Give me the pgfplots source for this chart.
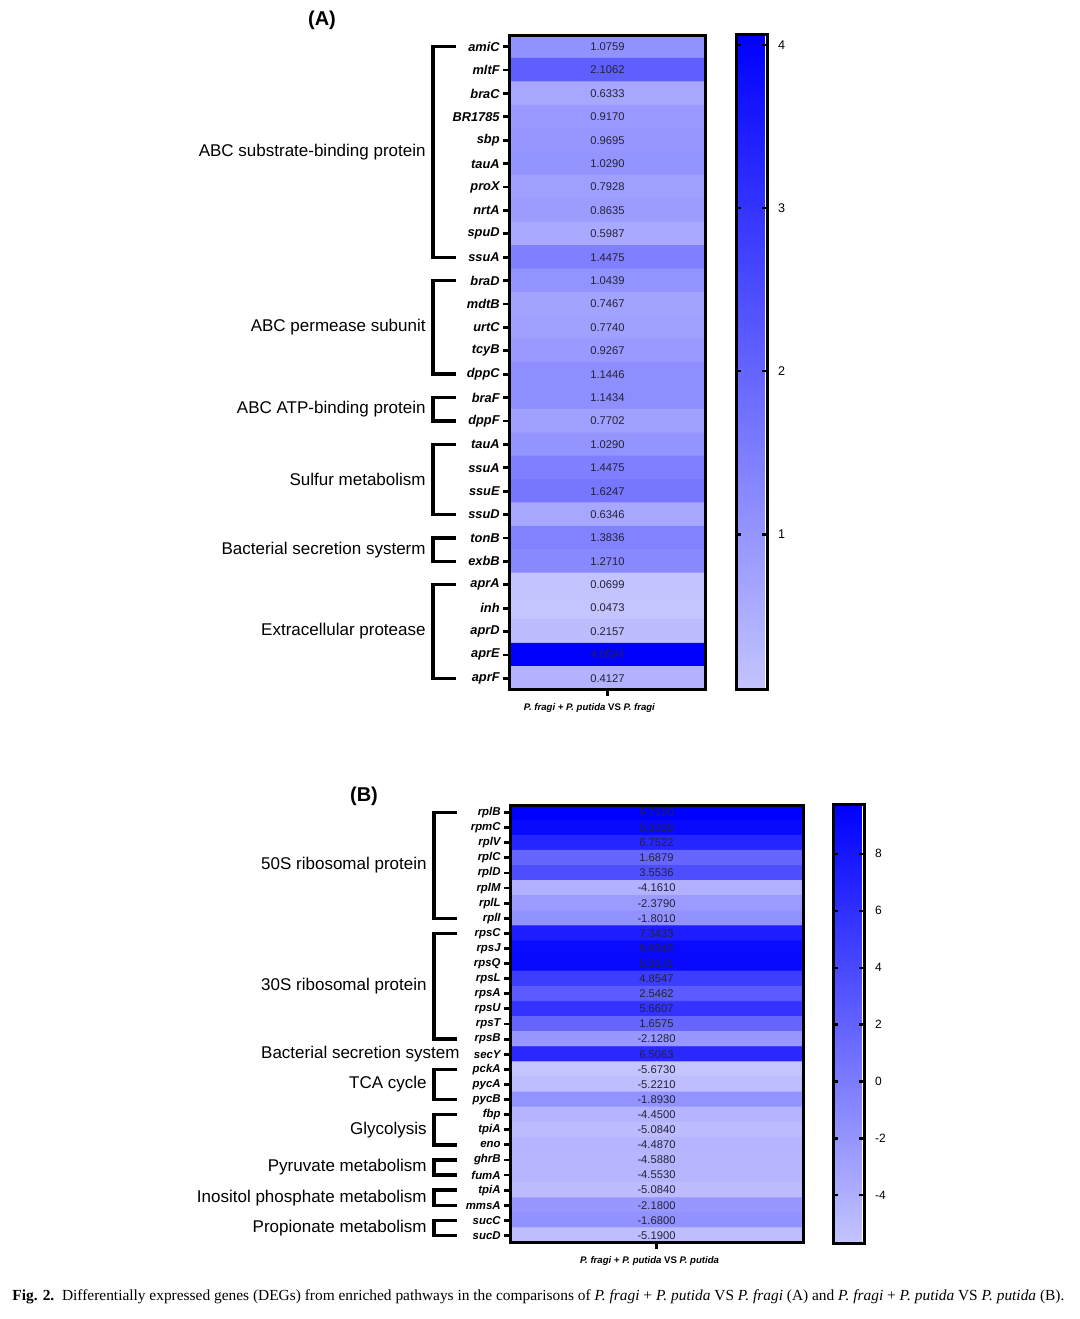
\documentclass[border=0pt]{standalone}
\usepackage{graphicx}
\usepackage{pgfplots}
\usepackage{pgfplotstable}
\pgfplotsset{compat=1.18}
\usepackage{fontspec}
\setmainfont{Liberation Sans}
\newfontfamily\capfont{Liberation Serif}
\definecolor{valcol}{RGB}{35,35,55}
\pgfplotsset{colormap={bluemap}{rgb255=(196,196,255) rgb255=(0,0,255)},
  /pgf/number format/assume math mode=true}

\pgfplotstableread{
y v
0 1.0759
1 2.1062
2 0.6333
3 0.9170
4 0.9695
5 1.0290
6 0.7928
7 0.8635
8 0.5987
9 1.4475
10 1.0439
11 0.7467
12 0.7740
13 0.9267
14 1.1446
15 1.1434
16 0.7702
17 1.0290
18 1.4475
19 1.6247
20 0.6346
21 1.3836
22 1.2710
23 0.0699
24 0.0473
25 0.2157
26 4.0594
27 0.4127
}\tabA

\pgfplotstableread{
y v
0 9.7120
1 8.9399
2 6.7522
3 1.6879
4 3.5536
5 -4.1610
6 -2.3790
7 -1.8010
8 7.3433
9 8.8343
10 8.9171
11 4.8547
12 2.5462
13 5.6607
14 1.6575
15 -2.1280
16 6.5063
17 -5.6730
18 -5.2210
19 -1.8930
20 -4.4500
21 -5.0840
22 -4.4870
23 -4.5880
24 -4.5530
25 -5.0840
26 -2.1800
27 -1.6800
28 -5.1900
}\tabB

\pgfplotstablevertcat{\tabAA}{\tabA}
\pgfplotstablevertcat{\tabAA}{\tabA}
\pgfplotstablevertcat{\tabBB}{\tabB}
\pgfplotstablevertcat{\tabBB}{\tabB}

\newcommand\grpfont{\fontsize{8.5}{10}\selectfont}
% bracket: #1 first row, #2 last row, #3 middle, #4 label
\newcommand\brk[4]{%
  \draw[line width=1.7pt, line join=miter] ([xshift=-26.5pt]axis cs:-0.5,#1) -- ([xshift=-38pt]axis cs:-0.5,#1) -- ([xshift=-38pt]axis cs:-0.5,#2) -- ([xshift=-26.5pt]axis cs:-0.5,#2);
  \node[anchor=east, font=\grpfont, inner sep=0pt] at ([xshift=-41.5pt]axis cs:-0.5,#3) {#4};}

\pgfplotsset{heat/.style={
  scale only axis, enlargelimits=false, clip=false,
  axis on top,
  y dir=reverse,
  xmin=-0.5, xmax=1.5,
  axis line style={line width=1.5pt, black},
  tick align=outside,
  major tick length=3pt,
  tick style={black, line width=1.4pt},
  ytick pos=left, xtick pos=bottom,
  xtick={0.5},
  colormap name=bluemap,
  colorbar,
}}

\begin{document}
\begin{tikzpicture}
\useasboundingbox (0,0) rectangle (540pt,659.5pt);

\node[font=\bfseries\fontsize{10}{12}\selectfont] at (161pt,649.5pt) {(A)};
\node[font=\bfseries\fontsize{10}{12}\selectfont] at (182pt,261.5pt) {(B)};

% ---------------- Panel A ----------------
\begin{axis}[heat,
  at={(254.5pt,642pt)}, anchor=north west,
  width=98.5pt, height=327.5pt,
  ymin=-0.5, ymax=27.5,
  ytick={0,...,27},
  yticklabels={amiC,mltF,braC,BR1785,sbp,tauA,proX,nrtA,spuD,ssuA,braD,mdtB,urtC,tcyB,dppC,braF,dppF,tauA,ssuA,ssuE,ssuD,tonB,exbB,aprA,inh,aprD,aprE,aprF},
  yticklabel style={font=\bfseries\itshape\fontsize{6.4}{7}\selectfont, inner sep=1.5pt},
  xticklabels={{\textit{P. fragi + P. putida} VS \textit{P. fragi}}},
  xticklabel style={font=\bfseries\fontsize{4.8}{5.5}\selectfont, xshift=-9pt},
  point meta min=0.0473, point meta max=4.0594,
  colorbar style={
    at={(parent axis.north east)}, anchor=north west, xshift=6.5pt,
    scale only axis, width=15.5pt, height=327.5pt,
    ytick={1,2,3,4},
    ytick pos=both, yticklabel pos=right,
    tick align=inside, major tick length=2.5pt,
    ytick style={black, line width=1.1pt},
    axis line style={line width=1.5pt, black},
    yticklabel style={font=\fontsize{6.3}{7}\selectfont, xshift=2pt},
  },
]
\addplot[matrix plot*, mesh/cols=2, mesh/ordering=y varies, point meta=explicit]
  table[x expr={floor(\coordindex/28)}, y=y, meta=v]{\tabAA};
\addplot[only marks, mark=*, mark size=0pt, mark options={draw=none, fill=none},
  point meta=explicit symbolic, nodes near coords,
  every node near coord/.append style={anchor=center, text=valcol, font=\fontsize{5.6}{6}\selectfont}]
  table[x expr=0.5, y=y, meta=v]{\tabA};
\brk{0}{9}{4.5}{ABC substrate-binding protein}
\brk{10}{14}{12}{ABC permease subunit}
\brk{15}{16}{15.5}{ABC ATP-binding protein}
\brk{17}{20}{18.5}{Sulfur metabolism}
\brk{21}{22}{21.5}{Bacterial secretion systerm}
\brk{23}{27}{25}{Extracellular protease}
\end{axis}

% ---------------- Panel B ----------------
\begin{axis}[heat,
  at={(255pt,257pt)}, anchor=north west,
  width=146.5pt, height=219pt,
  ymin=-0.5, ymax=28.5,
  ytick={0,...,28},
  yticklabels={rplB,rpmC,rplV,rplC,rplD,rplM,rplL,rplI,rpsC,rpsJ,rpsQ,rpsL,rpsA,rpsU,rpsT,rpsB,secY,pckA,pycA,pycB,fbp,tpiA,eno,ghrB,fumA,tpiA,mmsA,sucC,sucD},
  yticklabel style={font=\bfseries\itshape\fontsize{5.7}{6}\selectfont, inner sep=1.5pt},
  xticklabels={{\textit{P. fragi + P. putida} VS \textit{P. putida}}},
  xticklabel style={font=\bfseries\fontsize{4.8}{5.5}\selectfont, xshift=-3.5pt},
  point meta min=-5.673, point meta max=9.712,
  colorbar style={
    at={(parent axis.north east)}, anchor=north west, xshift=6.5pt,
    scale only axis, width=15.5pt, height=219pt,
    ytick={-4,-2,0,2,4,6,8},
    ytick pos=both, yticklabel pos=right,
    tick align=inside, major tick length=2.5pt,
    ytick style={black, line width=1.1pt},
    axis line style={line width=1.5pt, black},
    yticklabel style={font=\fontsize{6}{7}\selectfont, xshift=2pt},
  },
]
\addplot[matrix plot*, mesh/cols=2, mesh/ordering=y varies, point meta=explicit]
  table[x expr={floor(\coordindex/29)}, y=y, meta=v]{\tabBB};
\addplot[only marks, mark=*, mark size=0pt, mark options={draw=none, fill=none},
  point meta=explicit symbolic, nodes near coords,
  every node near coord/.append style={anchor=center, text=valcol, font=\fontsize{5.6}{6}\selectfont}]
  table[x expr=0.5, y=y, meta=v]{\tabB};
\brk{0}{7}{3.5}{50S ribosomal protein}
\brk{8}{15}{11.5}{30S ribosomal protein}
\node[anchor=east, font=\grpfont, inner sep=0pt] at ([xshift=-25pt]axis cs:-0.5,16) {Bacterial secretion system};
\brk{17}{19}{18}{TCA cycle}
\brk{20}{22}{21}{Glycolysis}
\brk{23}{24}{23.5}{Pyruvate metabolism}
\brk{25}{26}{25.5}{Inositol phosphate metabolism}
\brk{27}{28}{27.5}{Propionate metabolism}
\end{axis}

% caption
\node[anchor=west, inner sep=0pt] at (6pt,11pt) {\resizebox{526pt}{!}{\capfont\fontsize{7.5}{9}\selectfont\textbf{Fig. 2.}\ \ Differentially expressed genes (DEGs) from enriched pathways in the comparisons of \textit{P. fragi} + \textit{P. putida} VS \textit{P. fragi} (A) and \textit{P. fragi} + \textit{P. putida} VS \textit{P. putida} (B).}};
\end{tikzpicture}
\end{document}
